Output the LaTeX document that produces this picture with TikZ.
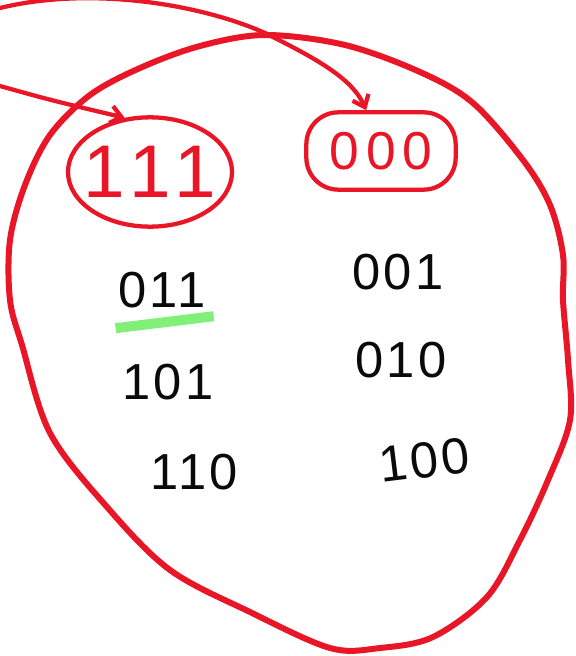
\documentclass[tikz,border=0pt]{standalone}
\usepackage{fontspec}
\setmainfont{Liberation Sans}
\newfontfamily\handfont[LetterSpace=6]{Liberation Sans}
\newfontfamily\handwide[LetterSpace=13]{Liberation Sans}
\usepackage{tikz}
\usetikzlibrary{shapes.geometric, arrows.meta, positioning}
\definecolor{penred}{RGB}{232,22,38}
\definecolor{penblack}{RGB}{10,10,10}
\definecolor{hilite}{RGB}{128,240,120}
\tikzset{
  bigloop/.style={draw=penred, line width=4.5pt, line cap=round, line join=round},
  redline/.style={draw=penred, line width=3.2pt, line cap=round, line join=round},
  barb/.style={redline, -{Straight Barb[length=8pt, width=13pt, line width=3.2pt]}},
  bits/.style={font=\handfont\fontsize{38}{38}\selectfont, text=penblack, inner sep=0pt},
  groupring/.style={ellipse, draw=penred, line width=3.2pt, inner sep=-14pt,
    font=\handwide\fontsize{56}{56}\selectfont, text=penred},
  groupbox/.style={rectangle, draw=penred, line width=3.2pt, rounded corners=24pt,
    font=\handwide\fontsize{40}{40}\selectfont, text=penred}
}
\begin{document}
\begin{tikzpicture}[x=0.75pt, y=-0.75pt]
  \useasboundingbox (0,0) rectangle (575,656);
  \clip (0,0) rectangle (575,656);

  % outer loop
  \draw[bigloop] plot[smooth cycle, tension=0.55] coordinates {
    (265,35) (200,46) (140,68) (90,95) (50,135) (25,185) (10,240) (10,300)
    (22,345) (50,433) (107,507) (170,570) (250,612) (330,648) (380,648)
    (433,637) (487,597) (520,540) (548,480) (570,420) (568,360) (563,300)
    (563,255) (550,205) (523,160) (473,103) (420,72) (345,45)};

  % the two groups
  \node[groupring, minimum width=123pt, minimum height=82pt] (ones) at (150,172) {111};
  \node[groupbox, minimum width=112pt, minimum height=58pt] (zeros) at (381,151) {000};

  % remaining words
  \node[bits] (b011) at (162,290) {011};
  \node[bits] (b001) at (398,272) {001};
  \node[bits] (b010) at (401,360) {010};
  \node[bits] (b101) at (168,382) {101};
  \node[bits] (b110) at (194,472) {110};
  \node[bits, rotate=7] (b100) at (424,460) {100};

  \draw[hilite, line width=7.5pt]
    ([xshift=-2pt, yshift=-15pt]b011.south west) -- ([xshift=6pt, yshift=-6pt]b011.south east);

  % arrows into the groups
  \coordinate (lstart) at (0,86);
  \coordinate (tstart) at (0,8);
  \coordinate (cross) at (265,33);
  \draw[barb] (lstart) .. controls (50,100) .. (ones.115);
  \draw[barb] (tstart) .. controls (90,-14) and (200,4) .. (cross)
    .. controls (315,58) and (352,78) .. (zeros.110);
\end{tikzpicture}
\end{document}
